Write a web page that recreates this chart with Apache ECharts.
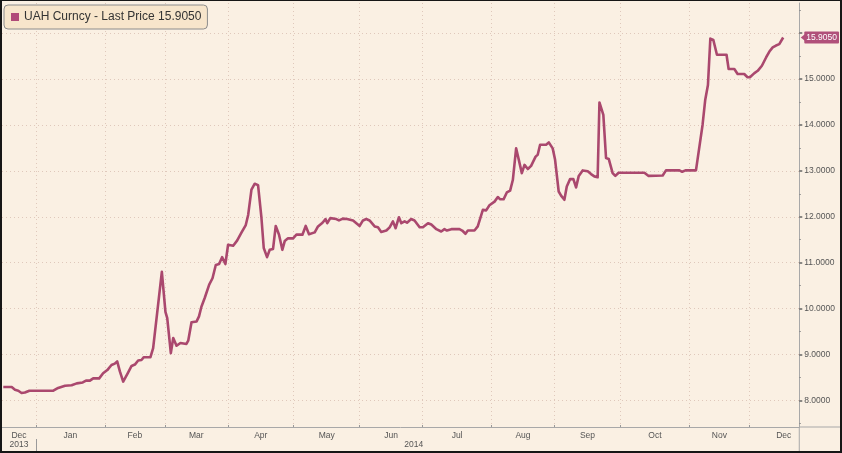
<!DOCTYPE html>
<html><head><meta charset="utf-8">
<script src="https://cdn.jsdelivr.net/npm/echarts@6/dist/echarts.min.js"></script>
<style>
html,body{margin:0;padding:0;background:#faf0e3;}
#wrap{position:relative;width:842px;height:453px;overflow:hidden;}
#c{width:842px;height:453px;}
#frame{position:absolute;left:0;top:0;width:842px;height:453px;box-sizing:border-box;border:2px solid #161616;border-top-width:1px;pointer-events:none;}
</style></head><body>
<div id="wrap"><div id="c"></div><div id="frame"></div></div>
<script>
// ---- data ----
const seriesName = 'UAH Curncy - Last Price 15.9050';
// x = trading-day index (weekdays) counted from 2014-01-01
const tradingDay = [-10.9,-8.1,-7.0,-5.9,-4.8,-3.7,-2.2,5.8,7.4,9.7,
 11.9,13.6,15.6,16.7,18.0,19.1,21.1,22.4,23.8,25.2,
 26.3,27.1,28.0,29.1,30.6,31.9,33.0,34.1,35.2,36.0,
 38.2,39.1,42.0,43.2,43.8,45.0,45.8,46.9,48.2,50.2,
 50.8,51.9,53.6,54.4,55.2,56.3,57.8,58.9,60.0,61.1,
 62.1,63.2,64.1,65.8,67.1,68.6,70.0,70.8,71.9,73.0,
 74.1,75.2,76.0,77.1,78.0,79.1,80.0,81.1,82.2,83.0,
 84.1,85.8,86.9,88.9,90.0,91.1,93.0,94.1,95.6,96.6,
 97.2,98.2,100.2,101.1,102.4,103.8,105.8,107.1,108.0,109.1,
 110.2,111.3,113.0,114.1,115.2,116.9,118.0,119.1,120.0,121.1,
 121.9,123.0,123.8,125.2,126.3,128.0,129.1,130.8,131.9,133.6,
 135.2,136.3,137.1,138.6,141.3,142.2,143.3,144.1,146.3,147.4,
 149.1,150.2,151.3,153.0,154.1,154.9,156.0,157.1,158.2,159.1,
 160.2,161.1,162.1,163.0,164.1,165.2,166.7,167.4,168.2,170.2,
 171.1,172.4,173.2,174.4,175.2,176.3,177.1,178.2,179.3,180.2,
 181.1,182.4,184.1,185.2,186.3,187.4,188.0,189.3,190.2,191.1,
 192.4,193.3,194.4,203.0,204.4,209.1,210.2,214.7,215.6,216.7,
 220.2,222.4,223.3,224.2,225.0,226.0,227.2,230.4,231.1,233.0,
 234.1,236.3,237.4,238.2,239.7,240.8,242.2,243.6,244.7,245.8,
 246.9,248.0,249.3];
const price = [8.29,8.29,8.23,8.21,8.16,8.17,8.21,8.21,8.27,8.32,
 8.33,8.37,8.39,8.43,8.43,8.48,8.48,8.59,8.66,8.77,
 8.80,8.85,8.63,8.41,8.59,8.75,8.78,8.87,8.88,8.94,
 8.94,9.14,10.80,9.93,9.79,9.03,9.36,9.19,9.25,9.23,
 9.30,9.70,9.72,9.83,10.04,10.23,10.52,10.66,10.95,10.97,
 11.12,10.97,11.39,11.37,11.48,11.66,11.82,12.04,12.59,12.72,
 12.69,12.00,11.32,11.12,11.28,11.30,11.80,11.61,11.28,11.47,
 11.53,11.53,11.61,11.61,11.80,11.62,11.66,11.79,11.87,11.95,
 11.86,11.97,11.95,11.92,11.96,11.95,11.92,11.85,11.80,11.92,
 11.95,11.92,11.79,11.77,11.67,11.70,11.77,11.90,11.75,11.99,
 11.86,11.90,11.87,11.95,11.92,11.77,11.77,11.86,11.83,11.73,
 11.68,11.73,11.70,11.73,11.73,11.70,11.63,11.70,11.70,11.79,
 12.15,12.14,12.25,12.33,12.43,12.38,12.38,12.53,12.57,12.80,
 13.49,13.24,12.95,13.13,13.04,13.11,13.31,13.35,13.57,13.57,
 13.62,13.49,13.24,12.55,12.46,12.37,12.66,12.82,12.82,12.64,
 12.89,13.01,12.99,12.93,12.88,12.86,14.49,14.22,13.28,13.26,
 12.95,12.89,12.96,12.96,12.89,12.90,13.01,13.01,12.98,13.01,
 13.01,14.00,14.55,14.87,15.88,15.85,15.53,15.53,15.22,15.22,
 15.11,15.11,15.04,15.04,15.13,15.18,15.29,15.47,15.60,15.69,
 15.73,15.76,15.905];
const lastPrice = 15.905;
const monthNames = ['Dec','Jan','Feb','Mar','Apr','May','Jun','Jul','Aug','Sep','Oct','Nov','Dec'];
const monthStarts = [-22,0,23,43,64,86,108,129,152,173,195,218,238,261];
const yearNames = ['2013','2014'];
const yearStarts = [-22,0,261];
const priceTicks = [8,9,10,11,12,13,14,15,16];
const priceLabels = [8,9,10,11,12,13,14,15];
const halfTicks = [7.5,8.5,9.5,10.5,11.5,12.5,13.5,14.5,15.5,16.5];

// ---- layout ----
const xMin = -11.33, xMax = 254.67;
const yMin = 7.42, yMax = 16.657;
const FONT = 'Liberation Sans, Arial, sans-serif';
const lineColor = '#aa486e';

const monthLabelPos = monthNames.map((n,i)=> i===0 ? (Math.max(monthStarts[0],xMin)+monthStarts[1])/2 : (monthStarts[i]+monthStarts[i+1])/2);
const yearLabelPos = yearNames.map((n,i)=> (Math.max(yearStarts[i],xMin)+Math.min(yearStarts[i+1],xMax))/2 - (i===1?1.3:0));
const monthTicks = monthStarts.filter(v=>v>xMin && v<xMax);

function lookup(pos, names, v){
  for (let i=0;i<pos.length;i++) if (Math.abs(pos[i]-v)<1e-6) return names[i];
  return '';
}

const data = tradingDay.map((d,i)=>[d, price[i]]);

const chart = echarts.init(document.getElementById('c'), null, {renderer:'canvas'});
const gridLine = {show:true, lineStyle:{color:'#dfc8bb', type:[1,3], width:1}};
chart.setOption({
  animation:false,
  backgroundColor:'#faf0e3',
  grid:{left:2, right:42, top:3, bottom:26},
  legend:{
    left:4, top:5, orient:'horizontal',
    data:[{name:seriesName, icon:'rect'}],
    itemWidth:8, itemHeight:8,
    padding:[6,6,6,7],
    backgroundColor:'#f7e5cb', borderColor:'#8c8c8c', borderWidth:1, borderRadius:4,
    textStyle:{fontSize:12, color:'#333', fontFamily:FONT},
    selectedMode:false
  },
  xAxis:[{
    type:'value', min:xMin, max:xMax, position:'bottom',
    axisLine:{show:true, onZero:false, lineStyle:{color:'#a8a8a8', width:1}},
    axisTick:{show:true, inside:true, length:2, customValues:monthTicks, lineStyle:{color:'#999'}},
    axisLabel:{show:true, customValues:monthLabelPos, margin:4, fontSize:8.5, color:'#555', fontFamily:FONT,
      formatter:v=>lookup(monthLabelPos, monthNames, v)},
    splitLine:gridLine
  },{
    type:'value', min:xMin, max:xMax, position:'bottom', offset:12,
    axisLine:{show:false, onZero:false},
    axisTick:{show:true, length:12, customValues:[0], lineStyle:{color:'#9a9a9a'}},
    axisLabel:{show:true, customValues:yearLabelPos, margin:1, fontSize:8.5, color:'#555', fontFamily:FONT,
      formatter:v=>lookup(yearLabelPos, yearNames, v)},
    splitLine:{show:false}
  }],
  yAxis:[{
    type:'value', min:yMin, max:yMax, position:'right',
    axisLine:{show:true, onZero:false, lineStyle:{color:'#a8a8a8', width:1}},
    axisTick:{show:true, length:3, customValues:priceTicks, lineStyle:{color:'#666', width:1.5}},
    axisLabel:{show:true, customValues:priceLabels.concat([lastPrice]), margin:5, fontSize:8.5, color:'#555', fontFamily:FONT,
      formatter:v=> Math.abs(v-lastPrice)<1e-6 ? '{last|'+v.toFixed(4)+'}' : v.toFixed(4),
      rich:{last:{backgroundColor:'#b0507a', color:'#fff', fontSize:8.5, fontFamily:FONT, padding:[2,2,1,2], borderRadius:1}}},
    splitLine:gridLine
  },{
    type:'value', min:yMin, max:yMax, position:'right',
    axisLine:{show:false, onZero:false},
    axisTick:{show:true, length:1.5, customValues:halfTicks, lineStyle:{color:'#888'}},
    axisLabel:{show:false}, splitLine:{show:false}
  }],
  series:[{
    name:seriesName, type:'line', xAxisIndex:0, yAxisIndex:0,
    data:data, showSymbol:false, symbol:'none', smooth:false,
    lineStyle:{color:lineColor, width:2.6, join:'round'},
    itemStyle:{color:'#b04a78'},
    markPoint:{
      symbol:'triangle', symbolRotate:90, symbolSize:[8,5], symbolOffset:[4,0],
      itemStyle:{color:'#b0507a'}, label:{show:false},
      data:[{coord:[xMax, lastPrice]}]
    }
  }]
});

// extend axis lines beyond the plot like the reference
const px = chart.convertToPixel({xAxisIndex:0}, xMax);
const py = chart.convertToPixel({yAxisIndex:0}, yMin);
chart.setOption({graphic:[
  {type:'line', shape:{x1:px, y1:py, x2:px, y2:453}, style:{stroke:'#a8a8a8', lineWidth:1}, silent:true},
  {type:'line', shape:{x1:px, y1:py, x2:842, y2:py}, style:{stroke:'#a8a8a8', lineWidth:1}, silent:true}
]});
</script>
</body></html>
